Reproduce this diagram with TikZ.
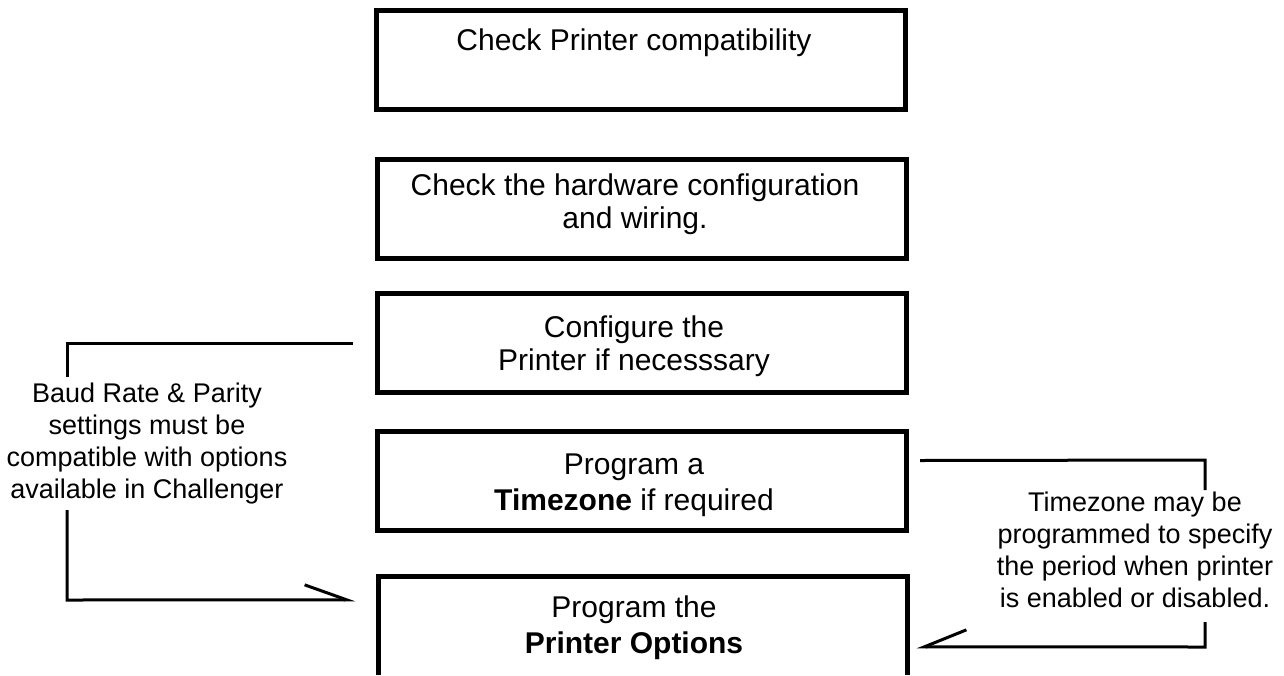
\documentclass[tikz,border=0pt]{standalone}
\usepackage{fontspec}
\setmainfont{Liberation Sans}
\usetikzlibrary{arrows.meta,calc}
\begin{document}
\begin{tikzpicture}[x=1pt,y=-1pt,
 stepbox/.style={draw, line width=5pt, minimum width=529pt, minimum height=99pt, inner sep=0pt},
 openbox/.style={minimum width=529pt, minimum height=98pt, inner sep=0pt},
 boxtext/.style={anchor=base, align=center, inner sep=0pt, font=\fontsize{30}{33}\selectfont},
 note/.style={anchor=base, align=center, font=\fontsize{27}{31.7}\selectfont, inner sep=0pt},
 bracket/.style={line width=3pt, line join=miter},
 barb/.style={-{Straight Barb[harpoon,length=42pt,width=30pt,line width=3pt]}},
 barbswap/.style={-{Straight Barb[harpoon,swap,length=42pt,width=34pt,line width=3pt]}}
]
\useasboundingbox (0,0) rectangle (1284,675);
\node[stepbox] (b1) at (641,60) {};
\node[stepbox] (b2) at (642,208.5) {};
\node[stepbox] (b3) at (642,343) {};
\node[stepbox] (b4) at (642,480.5) {};
\node[openbox] (b5) at (643,626) {};
\draw[line width=5pt] (b5.south west) -- (b5.north west) -- (b5.north east) -- (b5.south east);

\node[boxtext] (t1) at (634,50) {Check Printer compatibility};
\node[boxtext] (t2) at (635,228) {Check the hardware configuration\\and wiring.};
\node[boxtext] (t3) at (634,370) {Configure the\\Printer if necesssary};
\node[boxtext] (t4) at (634,510) {Program a\\[3pt]\textbf{Timezone} if required};
\node[boxtext] (t5) at (634,653) {Program the\\[3pt]\textbf{Printer Options}};

\node[note] (baud) at (147,498) {Baud Rate \& Parity\\settings must be\\compatible with options\\available in Challenger};
\node[note] (tz) at (1135,607) {Timezone may be\\programmed to specify\\the period when printer\\is enabled or disabled.};

\coordinate (la) at ($(b3.west)+(-22,0)$);
\coordinate (lb) at ($(b5.north west)+(-23,23)$);
\coordinate (ra) at ($(b4.east)+(11,-20)$);
\coordinate (rb) at ($(b5.north east)+(9,70)$);

\draw[bracket] (la) -- (67,343) -- (67,377);
\draw[bracket,barb] (67,510) -- (67,600) -- (lb);
\draw[bracket] (ra) -- (1205,460) -- (1205,490);
\draw[bracket,barbswap] (1205,622) -- (1205,647) -- (rb);
\end{tikzpicture}
\end{document}
